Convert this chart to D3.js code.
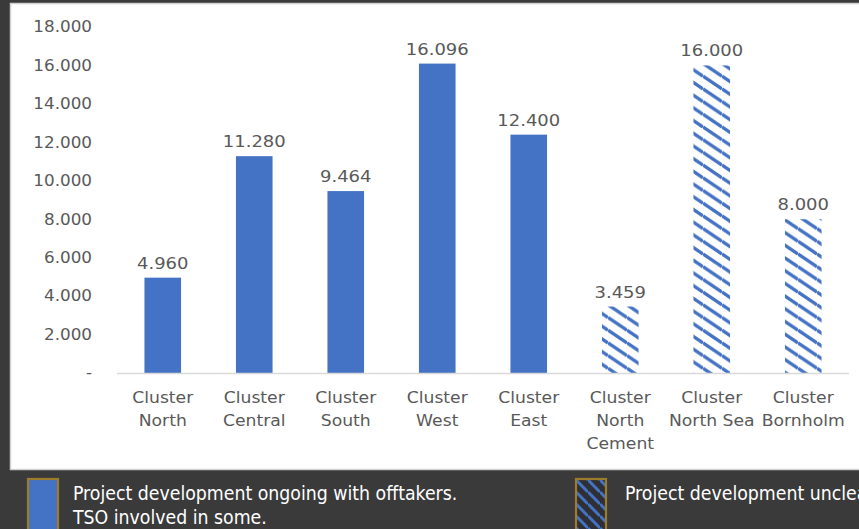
<!DOCTYPE html>
<html>
<head>
<meta charset="utf-8">
<script src="https://cdn.jsdelivr.net/npm/d3@7"></script>
<style>
  html, body { margin: 0; padding: 0; background: #3a3a3a; }
  svg { display: block; }
</style>
</head>
<body>
<svg id="chart" width="859" height="529"></svg>
<script>
// Capacity per cluster
const categories = [
  ["Cluster", "North"],
  ["Cluster", "Central"],
  ["Cluster", "South"],
  ["Cluster", "West"],
  ["Cluster", "East"],
  ["Cluster", "North", "Cement"],
  ["Cluster", "North Sea"],
  ["Cluster", "Bornholm"]
];
const values = [4960, 11280, 9464, 16096, 12400, 3459, 16000, 8000];
// true = development status unclear (hatched)
const unclear = [false, false, false, false, false, true, true, true];
const yTicks = [0, 2000, 4000, 6000, 8000, 10000, 12000, 14000, 16000, 18000];
const legendItems = [
  { lines: ["Project development ongoing with offtakers.", "TSO involved in some."], hatched: false },
  { lines: ["Project development unclear."], hatched: true }
];

const blue = "#4472c4";
const gray = "#595959";
const font = "'DejaVu Sans', sans-serif";

const locale = d3.formatLocale({ decimal: ",", thousands: ".", grouping: [3], currency: ["", ""] });
const fmt = locale.format(",.0f");
const fmtTick = v => v === 0 ? "-" : fmt(v);

const svg = d3.select("#chart");

// Hatch patterns for unclear projects
const defs = svg.append("defs");
function hatch(id, bg, w, h, sw) {
  const p = defs.append("pattern")
    .attr("id", id)
    .attr("patternUnits", "userSpaceOnUse")
    .attr("width", w).attr("height", h);
  p.append("rect").attr("width", w).attr("height", h).attr("fill", bg);
  [-h, 0, h].forEach(o => {
    p.append("line")
      .attr("x1", 0).attr("y1", o)
      .attr("x2", w).attr("y2", o + h)
      .attr("stroke", blue).attr("stroke-width", sw);
  });
}
hatch("hatch", "#fff", 19, 12.7, 3.4);
hatch("hatchDark", "#2f2f36", 12, 12, 3);

// White chart panel
svg.append("rect")
  .attr("x", 10.5).attr("y", 3.5).attr("width", 860).attr("height", 466)
  .attr("fill", "#fff").attr("stroke", "#d0d0d0").attr("stroke-width", 1.5);

const x0 = 117, x1 = 849;
const x = d3.scaleBand()
  .domain(d3.range(categories.length))
  .range([x0, x1])
  .paddingInner(0.6)
  .paddingOuter(0.3);

const y = d3.scaleLinear().domain([0, 18000]).range([373, 27]);

// Chart text is drawn slightly widened
const tickSX = 1.12, valueSX = 1.16, catSX = 1.11;

// Y axis labels
const yAxis = svg.append("g")
  .attr("transform", "translate(100,0)")
  .call(d3.axisLeft(y).tickValues(yTicks).tickFormat(fmtTick).tickSize(0).tickPadding(8));
yAxis.select(".domain").remove();
yAxis.selectAll("text")
  .attr("x", -8 / tickSX)
  .attr("transform", `scale(${tickSX},1)`)
  .attr("fill", gray).attr("font-family", font).attr("font-size", "15px");

// Bars
svg.append("g").selectAll("rect")
  .data(values)
  .join("rect")
  .attr("x", (d, i) => x(i))
  .attr("y", d => y(d))
  .attr("width", x.bandwidth())
  .attr("height", d => y(0) - y(d))
  .attr("fill", (d, i) => unclear[i] ? "url(#hatch)" : blue);

// Value labels
svg.append("g").selectAll("text")
  .data(values)
  .join("text")
  .attr("transform", (d, i) => `translate(${x(i) + x.bandwidth() / 2},${y(d) - 9}) scale(${valueSX},1)`)
  .attr("text-anchor", "middle")
  .attr("fill", gray)
  .attr("font-family", font)
  .attr("font-size", "15.5px")
  .text(d => fmt(d));

// Baseline
svg.append("line")
  .attr("x1", x0).attr("x2", x1)
  .attr("y1", y(0) + 0.5).attr("y2", y(0) + 0.5)
  .attr("stroke", "#d9d9d9").attr("stroke-width", 1.5);

// Category labels
const xl = svg.append("g").selectAll("text")
  .data(categories)
  .join("text")
  .attr("transform", (d, i) => `translate(${x(i) + x.bandwidth() / 2},0) scale(${catSX},1)`)
  .attr("text-anchor", "middle")
  .attr("fill", gray)
  .attr("font-family", font)
  .attr("font-size", "15.5px");
xl.each(function(lines) {
  d3.select(this).selectAll("tspan")
    .data(lines)
    .join("tspan")
    .attr("x", 0)
    .attr("y", (d, j) => 403 + j * 23)
    .text(d => d);
});

// Legend
const legendPos = [{ bx: 28, tx: 73 }, { bx: 576, tx: 625 }];
legendItems.forEach((item, k) => {
  const g = svg.append("g");
  g.append("rect")
    .attr("x", legendPos[k].bx).attr("y", 479)
    .attr("width", 30).attr("height", 60)
    .attr("fill", item.hatched ? "url(#hatchDark)" : blue)
    .attr("stroke", "#9c7d2c").attr("stroke-width", 2.2);
  g.selectAll("text")
    .data(item.lines)
    .join("text")
    .attr("x", legendPos[k].tx)
    .attr("y", (d, j) => 500 + j * 24)
    .attr("fill", "#ffffff")
    .attr("font-family", "'DejaVu Sans Condensed', 'DejaVu Sans', sans-serif")
    .style("font-stretch", "condensed")
    .attr("font-size", "19.3px")
    .text(d => d);
});
</script>
</body>
</html>
